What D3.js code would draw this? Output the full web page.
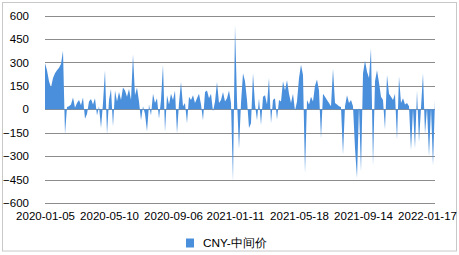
<!DOCTYPE html>
<html>
<head>
<meta charset="utf-8">
<script src="https://cdn.jsdelivr.net/npm/d3@7"></script>
<style>
    body { margin: 0; background: #fff; }
    svg text { font-family: "Liberation Sans", Arial, sans-serif; fill: #000; }
</style>
</head>
<body>
<svg id="chart"></svg>
<script>
// CNY-中间价, one value per sampled trading day
const values = [
    295, 250, 180, 140, 200, 230, 250, 265, 290, 375,
    -160, 15, 20, 30, 75, 10, 40, 60, 25, 75,
    -60, -30, 50, 65, 30, 70, -40, 20, -120, 40,
    250, -160, 60, 130, -110, 120, 50, 110, 60, 140,
    120, 80, 130, 60, 350, 90, 140, 50, -70, 20,
    -30, -140, 30, -40, 100, 40, 70, -60, 60, 285,
    -145, 90, 30, 100, 60, 120, -155, 40, 175, 20,
    40, -90, 80, 60, 90, 40, 70, 100, 30, -70,
    110, 120, 70, 100, -15, 50, 175, 40, 60, 110,
    50, 70, 120, 40, -460, 540, 60, -255, 40, 230,
    180, 60, -120, -90, 230, 30, -70, 70, -100, 80,
    90, 30, 200, -90, 60, 70, -65, 60, 50, 180,
    120, 185, 100, 40, 100, -10, 50, 200, 285, 220,
    -410, 60, 30, 80, 50, 150, 190, 120, -185, 100,
    80, 60, 40, 20, 260, 40, 30, 20, 15, -290,
    20, 90, 40, 60, 20, -250, -440, 20, -400, 230,
    310, 240, 200, 390, -360, 180, 250, 170, 80, 60,
    -130, 220, 100, 80, 60, 100, -195, 210, 40, 70,
    30, 40, 20, -260, 0, -250, 120, -210, 10, 230,
    -160, 10, -300, 10, -360, 60
];
const tickLabels = ["2020-01-05", "2020-05-10", "2020-09-06", "2021-01-11", "2021-05-18", "2021-09-14", "2022-01-17"];
const tickIndex = [0, 32, 64, 95, 127, 159, 191];
const yTicks = [-600, -450, -300, -150, 0, 150, 300, 450, 600];
const seriesName = "CNY-中间价";

const width = 459;
const height = 255;
const margin = { top: 15.5, right: 24, bottom: 52, left: 45 };

const svg = d3.select("#chart").attr("width", width).attr("height", height);

// outer frame
svg.append("rect")
    .attr("x", 2.5).attr("y", 2.5)
    .attr("width", 454).attr("height", 248.5)
    .attr("fill", "#fff")
    .attr("stroke", "#c8c8c8");

const xScale = d3.scaleLinear()
    .domain([0, values.length - 1])
    .range([margin.left, width - margin.right]);

const yScale = d3.scaleLinear()
    .domain([-600, 600])
    .range([height - margin.bottom, margin.top]);

// gridlines
svg.append("g")
    .selectAll("line")
    .data(yTicks)
    .enter()
    .append("line")
    .attr("x1", margin.left)
    .attr("x2", width - margin.right)
    .attr("y1", d => Math.round(yScale(d)) + 0.5)
    .attr("y2", d => Math.round(yScale(d)) + 0.5)
    .attr("stroke", "#8c8c8c")
    .attr("stroke-width", 1);

// y labels
const yAxis = svg.append("g")
    .attr("transform", `translate(${margin.left - 16},0)`)
    .call(d3.axisLeft(yScale).tickValues(yTicks).tickSize(0).tickPadding(0));
yAxis.select(".domain").remove();
yAxis.selectAll("text")
    .attr("font-size", "11.5px")
    .attr("font-family", "Liberation Sans, Arial, sans-serif")
    .attr("fill", "#000");

// area series
const area = d3.area()
    .x((d, i) => xScale(i))
    .y0(yScale(0))
    .y1(d => yScale(d));

svg.append("path")
    .datum(values)
    .attr("d", area)
    .attr("fill", "#4a8fdb");

// x labels
const xAxis = svg.append("g")
    .attr("transform", `translate(0,${height - margin.bottom})`)
    .call(d3.axisBottom(xScale)
        .tickValues(tickIndex)
        .tickFormat((d, i) => tickLabels[i])
        .tickSize(0)
        .tickPadding(8.5));
xAxis.select(".domain").remove();
xAxis.selectAll("text")
    .attr("font-size", "11.5px")
    .attr("font-family", "Liberation Sans, Arial, sans-serif")
    .attr("fill", "#000");

// legend
const legend = svg.append("g").attr("transform", "translate(186,243)");
legend.append("rect")
    .attr("x", 0).attr("y", -4.5)
    .attr("width", 8).attr("height", 9)
    .attr("fill", "#4a8fdb");
legend.append("text")
    .attr("x", 17).attr("y", 0)
    .attr("dy", "0.35em")
    .attr("font-size", "11.8px")
    .text(seriesName);
</script>
</body>
</html>
